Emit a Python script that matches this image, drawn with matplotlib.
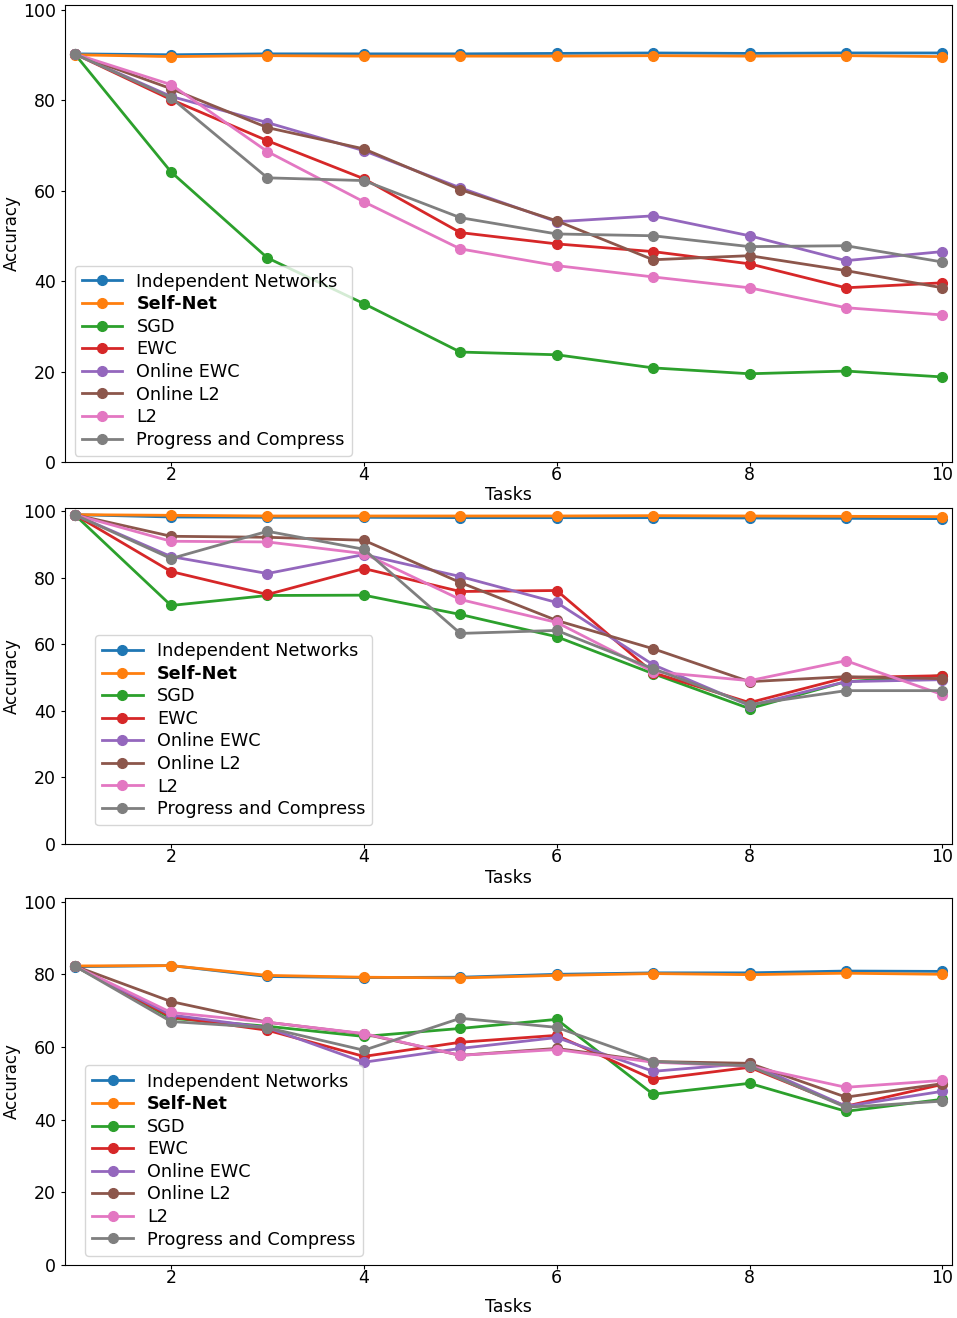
import matplotlib
matplotlib.use('Agg')
import matplotlib.pyplot as plt

tasks = [1, 2, 3, 4, 5, 6, 7, 8, 9, 10]
methods = ['Independent Networks', 'Self-Net', 'SGD', 'EWC', 'Online EWC',
           'Online L2', 'L2', 'Progress and Compress']

# panel 1
indep_1 = [90.2, 90.0, 90.2, 90.2, 90.2, 90.3, 90.4, 90.3, 90.4, 90.4]
selfnet_1 = [90.0, 89.6, 89.8, 89.7, 89.7, 89.7, 89.8, 89.7, 89.8, 89.6]
sgd_1 = [90.2, 64.1, 45.1, 35.0, 24.3, 23.7, 20.8, 19.5, 20.1, 18.8]
ewc_1 = [90.2, 80.1, 71.0, 62.6, 50.7, 48.2, 46.5, 43.8, 38.5, 39.6]
oewc_1 = [90.2, 80.8, 75.0, 68.8, 60.6, 53.1, 54.4, 50.0, 44.5, 46.5]
ol2_1 = [90.2, 82.5, 73.9, 69.2, 60.2, 53.3, 44.7, 45.6, 42.3, 38.5]
l2_1 = [90.2, 83.4, 68.6, 57.5, 47.1, 43.4, 40.9, 38.5, 34.1, 32.5]
pac_1 = [90.2, 80.5, 62.8, 62.2, 54.0, 50.4, 50.0, 47.6, 47.8, 44.2]

# panel 2
indep_2 = [99.0, 98.3, 98.2, 98.2, 98.1, 98.1, 98.1, 98.0, 97.9, 97.8]
selfnet_2 = [99.0, 98.8, 98.6, 98.6, 98.6, 98.6, 98.7, 98.6, 98.5, 98.4]
sgd_2 = [99.0, 71.7, 74.7, 74.8, 69.0, 62.3, 51.2, 40.7, 48.8, 50.6]
ewc_2 = [99.0, 81.9, 75.0, 82.8, 75.9, 76.2, 51.5, 42.5, 50.0, 50.6]
oewc_2 = [99.0, 86.4, 81.3, 87.0, 80.4, 72.6, 53.9, 41.6, 48.8, 49.4]
ol2_2 = [99.0, 92.5, 92.2, 91.3, 78.6, 67.2, 58.7, 48.8, 50.3, 49.7]
l2_2 = [99.0, 91.0, 90.8, 87.3, 73.5, 66.6, 51.8, 49.1, 55.1, 44.9]
pac_2 = [99.0, 85.8, 94.0, 88.6, 63.3, 64.2, 52.7, 41.9, 46.1, 46.1]

# panel 3
indep_3 = [82.1, 82.4, 79.4, 79.1, 79.2, 80.0, 80.4, 80.4, 80.9, 80.8]
selfnet_3 = [82.3, 82.4, 79.7, 79.2, 79.0, 79.7, 80.2, 79.9, 80.3, 80.0]
sgd_3 = [82.3, 67.9, 65.7, 62.9, 65.1, 67.6, 47.0, 50.0, 42.3, 45.6]
ewc_3 = [82.3, 68.3, 64.6, 57.4, 61.3, 63.2, 51.1, 54.4, 43.7, 49.7]
oewc_3 = [82.3, 68.8, 65.3, 55.8, 59.6, 62.6, 53.3, 55.5, 43.7, 47.8]
ol2_3 = [82.3, 72.5, 66.8, 63.6, 57.7, 59.6, 56.0, 55.5, 46.2, 49.9]
l2_3 = [82.3, 69.5, 66.8, 63.7, 57.7, 59.3, 55.8, 54.7, 48.9, 50.8]
pac_3 = [82.3, 67.0, 65.3, 59.1, 67.9, 65.4, 56.0, 54.8, 43.4, 45.1]

panels = [
    [indep_1, selfnet_1, sgd_1, ewc_1, oewc_1, ol2_1, l2_1, pac_1],
    [indep_2, selfnet_2, sgd_2, ewc_2, oewc_2, ol2_2, l2_2, pac_2],
    [indep_3, selfnet_3, sgd_3, ewc_3, oewc_3, ol2_3, l2_3, pac_3],
]

W, H = 957, 1318
fig = plt.figure(figsize=(W / 100, H / 100), dpi=100)

# axes boxes in pixels: left, top, right, bottom
boxes = [(65, 5, 952, 462), (65, 508, 952, 844), (65, 898, 952, 1265)]
leg_anchor = [(0.005, 0.002), (0.028, 0.04), (0.017, 0.011)]
label_pads = [1.5, 2, 8]

for i, series in enumerate(panels):
    l, t, r, b = boxes[i]
    ax = fig.add_axes([l / W, 1 - b / H, (r - l) / W, (b - t) / H])
    for j, ys in enumerate(series):
        ax.plot(tasks, ys, '-o', color='C%d' % j, lw=2, ms=7, label=methods[j])
    ax.set_xlim(0.9, 10.1)
    ax.set_ylim(0, 101)
    ax.set_xticks([2, 4, 6, 8, 10])
    ax.set_yticks([0, 20, 40, 60, 80, 100])
    ax.tick_params(labelsize=12.5, length=3)
    ax.tick_params(axis='x', pad=0)
    ax.set_xlabel('Tasks', fontsize=12.5, labelpad=label_pads[i])
    ax.set_ylabel('Accuracy', fontsize=12)
    ax.yaxis.set_label_coords(-0.05, 0.5)
    leg = ax.legend(loc='lower left', bbox_to_anchor=leg_anchor[i], fontsize=12.7,
                    handlelength=2.3, labelspacing=0.26, borderaxespad=0.3)
    leg.get_texts()[1].set_fontweight('bold')

fig.savefig('out.png', dpi=100)
